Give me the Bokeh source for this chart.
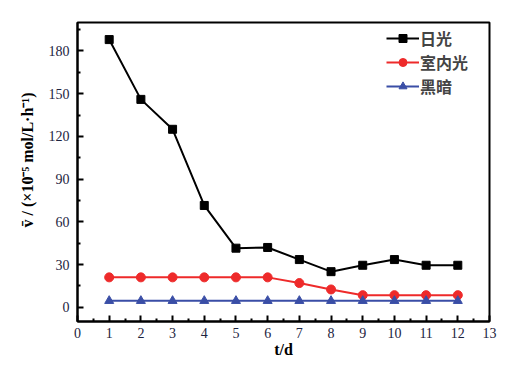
from bokeh.plotting import figure
from bokeh.embed import file_html
from bokeh.resources import INLINE
from bokeh.models import Legend, LegendItem, FixedTicker, Range1d

days = [1, 2, 3, 4, 5, 6, 7, 8, 9, 10, 11, 12]
sunlight = [188, 146, 125, 71.5, 41.5, 42, 33.5, 25, 29.5, 33.5, 29.5, 29.5]
indoor = [21, 21, 21, 21, 21, 21, 17, 12.5, 8.5, 8.5, 8.5, 8.5]
dark = [4.5, 4.5, 4.5, 4.5, 4.5, 4.5, 4.5, 4.5, 4.5, 4.5, 4.5, 4.5]
labels = ["日光", "室内光", "黑暗"]
x_ticks = list(range(0, 14))
y_ticks = [0, 30, 60, 90, 120, 150, 180]

p = figure(width=515, height=360, output_backend="svg", toolbar_location=None,
           x_range=Range1d(0, 13), y_range=Range1d(-10, 200),
           min_border_left=77, min_border_top=22, min_border_right=26, min_border_bottom=37)
p.grid.visible = False
p.outline_line_color = "black"
p.outline_line_width = 2
p.background_fill_color = "white"
p.border_fill_color = "white"

serif = "Liberation Serif"
for ax in (p.xaxis[0], p.yaxis[0]):
    ax.axis_line_width = 2
    ax.major_tick_in = 6
    ax.major_tick_out = 0
    ax.minor_tick_in = 3
    ax.minor_tick_out = 0
    ax.major_tick_line_width = 2
    ax.minor_tick_line_width = 2
    ax.major_label_text_font = serif
    ax.major_label_text_font_size = "14px"
    ax.major_label_text_color = "#1c2340"
    ax.axis_label_text_font = "Times New Roman"
    ax.axis_label_text_font_style = "bold"
    ax.axis_label_text_font_size = "16px"
    ax.axis_label_text_color = "black"

p.xaxis[0].ticker = FixedTicker(ticks=x_ticks, minor_ticks=[i + 0.5 for i in range(13)])
p.yaxis[0].ticker = FixedTicker(ticks=y_ticks, minor_ticks=[15, 45, 75, 105, 135, 165, 195])
p.xaxis[0].axis_label = "t/d"
p.yaxis[0].axis_label = "\u2002\u2002\u2002v\u0304 / (×10⁻⁵ mol/L·h⁻¹)"
p.xaxis[0].major_label_standoff = 6
p.xaxis[0].axis_label_standoff = 0
p.yaxis[0].major_label_standoff = 8
p.yaxis[0].axis_label_standoff = 10

l1 = p.line(days, sunlight, line_color="black", line_width=2)
m1 = p.scatter(days, sunlight, marker="square", size=8, color="black")
l2 = p.line(days, indoor, line_color="#ee2a2a", line_width=2)
m2 = p.scatter(days, indoor, marker="circle", size=9, color="#ee2a2a")
l3 = p.line(days, dark, line_color="#3a4ea6", line_width=2)
m3 = p.scatter(days, dark, marker="triangle", size=9, color="#3a4ea6")

legend = Legend(items=[LegendItem(label=labels[0], renderers=[l1, m1]),
                       LegendItem(label=labels[1], renderers=[l2, m2]),
                       LegendItem(label=labels[2], renderers=[l3, m3])],
                location=(309, 223), border_line_color=None, background_fill_alpha=0,
                label_text_font="Noto Sans CJK SC", label_text_font_style="bold",
                label_text_font_size="16px", glyph_width=33, spacing=-5,
                label_height=20, glyph_height=20,
                label_standoff=1, margin=0, padding=0)
p.add_layout(legend)

open("out.html", "w").write(file_html(p, INLINE))
